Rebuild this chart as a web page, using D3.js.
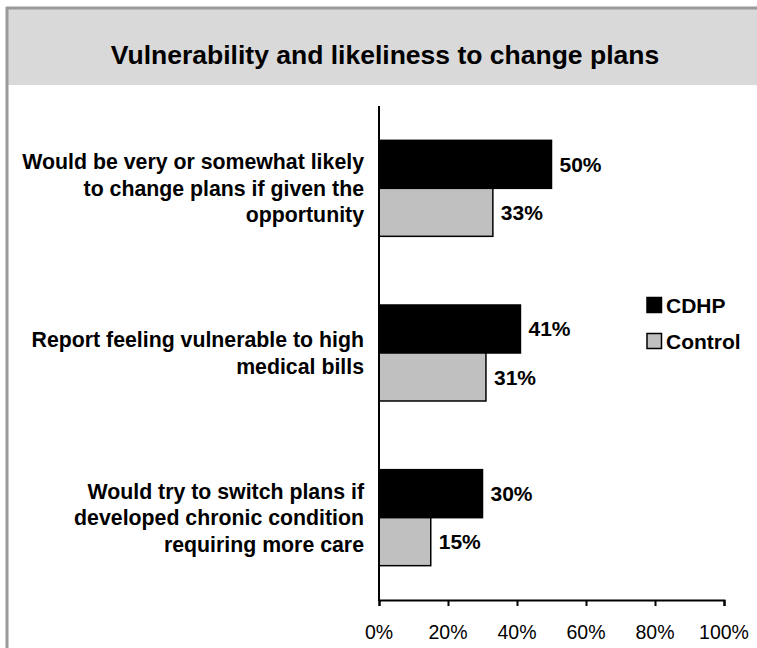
<!DOCTYPE html>
<html>
<head>
<meta charset="utf-8">
<script src="https://cdn.jsdelivr.net/npm/d3@7"></script>
<style>
  html, body { margin: 0; padding: 0; background: #fff; }
  svg { display: block; }
  text { font-family: "Liberation Sans", Arial, Helvetica, sans-serif; }
</style>
</head>
<body>
<svg id="chart" width="757" height="648"></svg>
<script>
const title = "Vulnerability and likeliness to change plans";
const categories = [
  ["Would be very or somewhat likely", "to change plans if given the", "opportunity"],
  ["Report feeling vulnerable to high", "medical bills"],
  ["Would try to switch plans if", "developed chronic condition", "requiring more care"]
];
const seriesNames = ["CDHP", "Control"];
const cdhpValues = [0.50, 0.41, 0.30];
const controlValues = [0.33, 0.31, 0.15];
const xTicks = [0, 0.2, 0.4, 0.6, 0.8, 1.0];

const seriesValues = [cdhpValues, controlValues];
const colors = ["#000000", "#c0c0c0"];
const SX = 1.0;

const svg = d3.select("#chart");
const W = 757, H = 648;

// frame
svg.append("rect").attr("x", 0).attr("y", 0).attr("width", W).attr("height", H).attr("fill", "#fff");
svg.append("rect").attr("x", 8).attr("y", 9).attr("width", W - 8).attr("height", 76).attr("fill", "#d9d9d9");
svg.append("line").attr("x1", 7).attr("x2", 7).attr("y1", 7).attr("y2", H)
  .attr("stroke", "#9a9a9a").attr("stroke-width", 3);
svg.append("line").attr("x1", 6).attr("x2", W).attr("y1", 8).attr("y2", 8)
  .attr("stroke", "#9a9a9a").attr("stroke-width", 3);

function stretchedText(g, x, y, str, opts) {
  return g.append("text")
    .attr("transform", `translate(${x},${y}) scale(${SX},1)`)
    .attr("x", 0).attr("y", 0)
    .attr("font-size", opts.size)
    .attr("font-weight", opts.weight || "bold")
    .attr("text-anchor", opts.anchor || "start")
    .attr("fill", "#000")
    .text(str);
}

stretchedText(svg, 385, 64, title, {size: 26.5, anchor: "middle"});

const x = d3.scaleLinear().domain([0, 1]).range([379, 724]);
const y = d3.scaleBand().domain(d3.range(categories.length)).range([106, 600])
  .paddingInner(0.417).paddingOuter(0.2085);
const ySub = d3.scaleBand().domain(d3.range(seriesNames.length)).range([0, y.bandwidth()]);

const plot = svg.append("g");

// bars
seriesValues.forEach((vals, si) => {
  plot.selectAll(null).data(vals).enter().append("rect")
    .attr("x", x(0))
    .attr("y", (d, i) => y(i) + ySub(si))
    .attr("width", d => x(d) - x(0))
    .attr("height", ySub.bandwidth())
    .attr("fill", colors[si])
    .attr("stroke", "#000")
    .attr("stroke-width", 1.5);
  vals.forEach((d, i) => {
    stretchedText(plot, x(d) + 8, y(i) + ySub(si) + ySub.bandwidth() / 2 + 7.5, d3.format(".0%")(d), {size: 21});
  });
});

// axes
const xAxis = d3.axisBottom(x).tickValues(xTicks).tickFormat(d3.format(".0%")).tickSize(6).tickSizeOuter(6);
const ax = svg.append("g").attr("transform", "translate(0,600)").call(xAxis);
ax.select(".domain").attr("stroke", "#000").attr("stroke-width", 2);
ax.selectAll(".tick line").attr("stroke", "#000").attr("stroke-width", 2);
ax.selectAll(".tick text").remove();
xTicks.forEach(t => {
  stretchedText(ax, x(t), 39, d3.format(".0%")(t), {size: 19.5, weight: "normal", anchor: "middle"});
});
svg.append("line").attr("x1", x(0)).attr("x2", x(0)).attr("y1", 106).attr("y2", 601)
  .attr("stroke", "#000").attr("stroke-width", 2);

// category labels
const lineH = 26.5;
categories.forEach((lines, i) => {
  const cy = y(i) + y.bandwidth() / 2;
  const first = cy - (lines.length - 1) * lineH / 2 + 7.5;
  lines.forEach((ln, j) => {
    stretchedText(svg, 364, first + j * lineH, ln, {size: 21.3, anchor: "end"});
  });
});

// legend
seriesNames.forEach((name, i) => {
  const ly = 305 + i * 36;
  svg.append("rect").attr("x", 647).attr("y", ly - 7.5).attr("width", 14.5).attr("height", 15)
    .attr("fill", colors[i]).attr("stroke", "#000").attr("stroke-width", 1.5);
  stretchedText(svg, 666, ly + 7.5, name, {size: 21});
});
</script>
</body>
</html>
